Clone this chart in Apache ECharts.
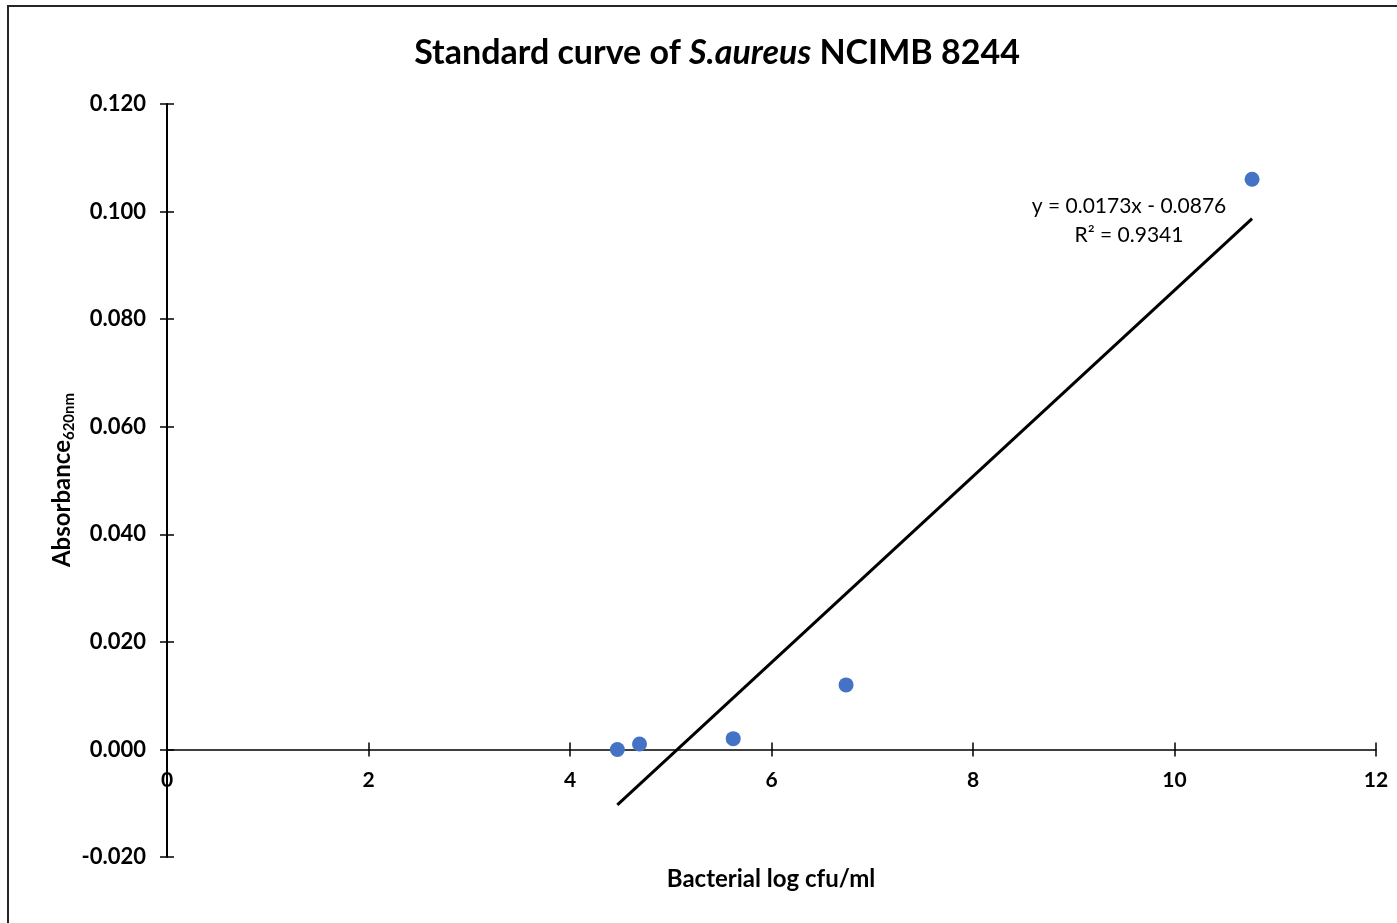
<!DOCTYPE html>
<html>
<head>
<meta charset="utf-8">
<script src="https://cdn.jsdelivr.net/npm/echarts@6/dist/echarts.min.js"></script>
<style>
html,body{margin:0;padding:0;background:#fff;}
#chart{width:1397px;height:923px;}
</style>
</head>
<body>
<div id="chart"></div>
<script>
// Data
const logCfu = [4.47, 4.69, 5.62, 6.74, 10.77];
const absorbance = [0.000, 0.001, 0.002, 0.012, 0.106];
const trendX = [4.47, 10.77];
const trendY = [-0.0103, 0.0987];
const xTicks = [0, 2, 4, 6, 8, 10, 12];
const yTicks = [-0.020, 0.000, 0.020, 0.040, 0.060, 0.080, 0.100, 0.120];
const equationText = 'y = 0.0173x - 0.0876';
const r2Text = 'R² = 0.9341';

const FONT = 'Lato, "Open Sans", sans-serif';
const chart = echarts.init(document.getElementById('chart'), null, {renderer: 'canvas'});

const xMin = xTicks[0], xMax = xTicks[xTicks.length - 1], xStep = xTicks[1] - xTicks[0];
const yMin = yTicks[0], yMax = yTicks[yTicks.length - 1], yStep = 0.02;

const GRID = {left: 167, right: 21, top: 104, bottom: 66};
const gridH = 923 - GRID.top - GRID.bottom;
// move the x axis up from the grid bottom to the y = 0 level
const zeroOffset = -gridH * (0 - yMin) / (yMax - yMin);

const baseX = {
  type: 'value', min: xMin, max: xMax, interval: xStep,
  splitLine: {show: false}
};
const baseY = {
  type: 'value', min: yMin, max: yMax, interval: yStep,
  splitLine: {show: false}
};

const option = {
  backgroundColor: '#fff',
  animation: false,
  title: {
    text: '{a|Standard curve of }{b|S.aureus}{a| NCIMB 8244}',
    left: 712, top: 31, textAlign: 'center',
    textStyle: {
      rich: {
        a: {fontFamily: FONT, fontWeight: 'bold', fontSize: 34, color: '#000'},
        b: {fontFamily: FONT, fontWeight: 'bold', fontStyle: 'italic', fontSize: 34, color: '#000'}
      }
    }
  },
  grid: Object.assign({containLabel: false}, GRID),
  xAxis: [
    Object.assign({}, baseX, {
      position: 'bottom', offset: zeroOffset,
      axisLine: {show: true, onZero: false, lineStyle: {color: '#000', width: 1.5}},
      axisTick: {show: true, inside: false, length: 7, lineStyle: {color: '#000', width: 1.5}},
      axisLabel: {show: true, margin: 20, color: '#000', fontFamily: FONT, fontWeight: 'bold', fontSize: 21,
        formatter: v => String(v)}
    }),
    Object.assign({}, baseX, {
      position: 'bottom', offset: zeroOffset,
      axisLine: {show: false, onZero: false},
      axisTick: {show: true, inside: true, length: 7, lineStyle: {color: '#000', width: 1.5}},
      axisLabel: {show: false}
    })
  ],
  yAxis: [
    Object.assign({}, baseY, {
      position: 'left',
      axisLine: {show: true, onZero: false, lineStyle: {color: '#000', width: 2}},
      axisTick: {show: true, inside: false, length: 7, lineStyle: {color: '#000', width: 1.5}},
      axisLabel: {show: true, margin: 21, color: '#000', fontFamily: FONT, fontWeight: 'bold', fontSize: 22,
        formatter: v => v.toFixed(3)}
    }),
    Object.assign({}, baseY, {
      position: 'left',
      axisLine: {show: false, onZero: false},
      axisTick: {show: true, inside: true, length: 7, lineStyle: {color: '#000', width: 1.5}},
      axisLabel: {show: false}
    })
  ],
  graphic: [
    {type: 'rect', silent: true, z: -10,
      shape: {x: 8, y: 6, width: 2000, height: 2000},
      style: {fill: 'none', stroke: '#262626', lineWidth: 2}},
    {type: 'text', x: 771, y: 879, silent: true,
      style: {text: 'Bacterial log cfu/ml', fill: '#000', font: 'bold 24px ' + FONT, align: 'center', verticalAlign: 'middle'}},
    {type: 'text', x: 62, y: 480, rotation: Math.PI / 2, silent: true,
      style: {
        text: '{a|Absorbance}{b|620nm}', align: 'center', verticalAlign: 'middle',
        rich: {
          a: {fontFamily: FONT, fontWeight: 'bold', fontSize: 24, fill: '#000', lineHeight: 30},
          b: {fontFamily: FONT, fontWeight: 'bold', fontSize: 15, fill: '#000', lineHeight: 16, verticalAlign: 'bottom'}
        }
      }},
    {type: 'text', x: 1129, y: 206, silent: true,
      style: {text: equationText, fill: '#000', font: '21px ' + FONT, align: 'center', verticalAlign: 'middle'}},
    {type: 'text', x: 1129, y: 235, silent: true,
      style: {text: r2Text, fill: '#000', font: '21px ' + FONT, align: 'center', verticalAlign: 'middle'}}
  ],
  series: [
    {
      type: 'line', xAxisIndex: 0, yAxisIndex: 0,
      data: trendX.map((x, i) => [x, trendY[i]]),
      showSymbol: false, symbol: 'none',
      lineStyle: {color: '#000', width: 3},
      z: 3
    },
    {
      type: 'scatter', xAxisIndex: 0, yAxisIndex: 0,
      data: logCfu.map((x, i) => [x, absorbance[i]]),
      symbol: 'circle', symbolSize: 15,
      itemStyle: {color: '#4472C4', opacity: 1},
      z: 4
    }
  ]
};
chart.setOption(option);
</script>
</body>
</html>
